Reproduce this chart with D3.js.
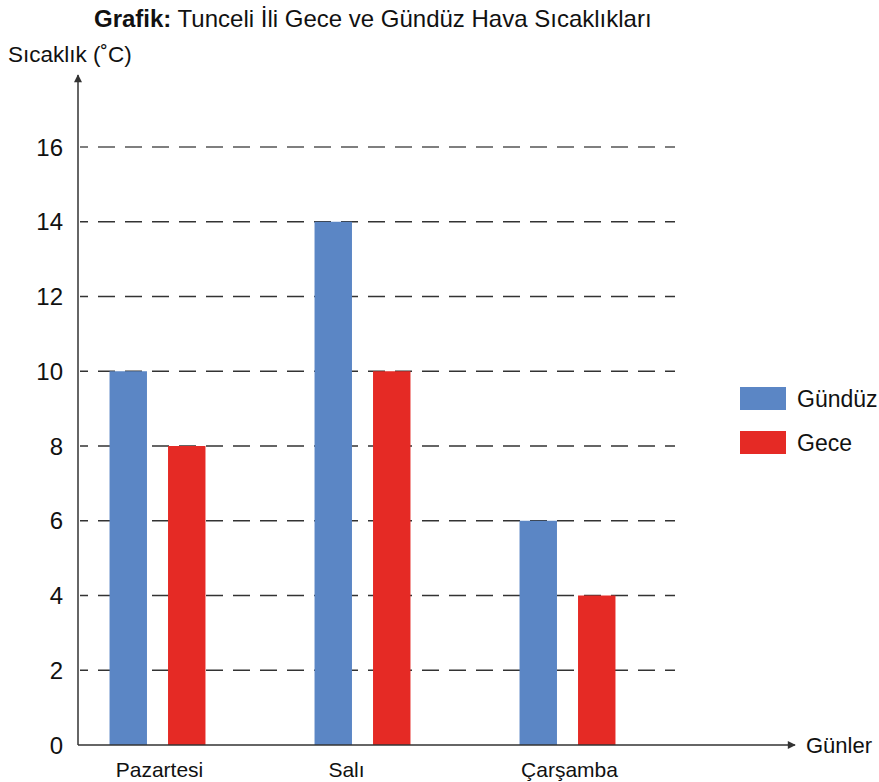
<!DOCTYPE html>
<html>
<head>
<meta charset="utf-8">
<script src="https://cdnjs.cloudflare.com/ajax/libs/d3/7.8.5/d3.min.js"></script>
<style>
  body { margin: 0; background: #fff; }
  svg { font-family: "Liberation Sans", Arial, sans-serif; }
</style>
</head>
<body>
<svg id="svg" width="879" height="782"></svg>
<script>
// chart data
var days = ["Pazartesi", "Salı", "Çarşamba"];
var series = ["Gündüz", "Gece"];
var gunduz = [10, 14, 6];
var gece = [8, 10, 4];
var yTicks = [0, 2, 4, 6, 8, 10, 12, 14, 16];
var colors = ["#5b86c5", "#e52a25"];

function bar_chart() {
    var svg = d3.select("svg");

    var x0 = d3.scaleBand()
            .domain(days)
            .range([55, 670])
            .paddingInner(0.532)
            .paddingOuter(0.266);

    var x1 = d3.scaleBand()
            .domain(series)
            .range([0, x0.bandwidth()])
            .paddingInner(0.36);

    var y = d3.scaleLinear()
            .domain([0, 16])
            .range([745, 147]);

    var color = d3.scaleOrdinal().domain(series).range(colors);

    var rows = days.map(function (d, i) {
        return {day: d, values: [
            {key: "Gündüz", value: gunduz[i]},
            {key: "Gece", value: gece[i]}
        ]};
    });

    // arrow head
    svg.append("defs").append("marker")
            .attr("id", "arrow")
            .attr("viewBox", "0 0 10 10")
            .attr("refX", 9)
            .attr("refY", 5)
            .attr("markerWidth", 10)
            .attr("markerHeight", 8)
            .attr("markerUnits", "userSpaceOnUse")
            .attr("orient", "auto")
            .append("path")
            .attr("d", "M0,0L10,5L0,10z")
            .attr("fill", "#333");

    // dashed grid lines
    svg.append("g")
            .selectAll("line")
            .data(yTicks.filter(function (d) { return d > 0; }))
            .enter().append("line")
            .attr("x1", 80)
            .attr("x2", 675)
            .attr("y1", function (d) { return y(d); })
            .attr("y2", function (d) { return y(d); })
            .attr("stroke", function (d) { return d === 16 ? "#555" : "#333"; })
            .attr("stroke-width", 1.6)
            .attr("stroke-dasharray", "17,10")
            .attr("stroke-dashoffset", 9);

    // bars
    var group = svg.append("g")
            .selectAll("g")
            .data(rows)
            .enter().append("g")
            .attr("transform", function (d) {
                return "translate(" + x0(d.day) + ",0)";
            });

    group.selectAll("rect")
            .data(function (d) { return d.values; })
            .enter().append("rect")
            .attr("x", function (d) { return x1(d.key); })
            .attr("y", function (d) { return y(d.value); })
            .attr("width", x1.bandwidth())
            .attr("height", function (d) { return y(0) - y(d.value); })
            .attr("fill", function (d) { return color(d.key); });

    // y tick labels
    svg.append("g")
            .selectAll("text")
            .data(yTicks)
            .enter().append("text")
            .attr("x", 63)
            .attr("y", function (d) { return y(d); })
            .attr("dy", "0.36em")
            .attr("text-anchor", "end")
            .attr("font-size", 24)
            .attr("fill", "#111")
            .text(function (d) { return d; });

    // x labels
    svg.append("g")
            .selectAll("text")
            .data(days)
            .enter().append("text")
            .attr("x", function (d) { return x0(d) + x0.bandwidth() / 2 + (d === "Salı" ? -16 : 2); })
            .attr("y", 777)
            .attr("text-anchor", "middle")
            .attr("font-size", 21)
            .attr("fill", "#111")
            .text(function (d) { return d; });

    // axes
    svg.append("line")
            .attr("x1", 78).attr("y1", y(0))
            .attr("x2", 78).attr("y2", 75)
            .attr("stroke", "#333")
            .attr("stroke-width", 1.5)
            .attr("marker-end", "url(#arrow)");

    svg.append("line")
            .attr("x1", 78).attr("y1", y(0))
            .attr("x2", 795).attr("y2", y(0))
            .attr("stroke", "#333")
            .attr("stroke-width", 1.5)
            .attr("marker-end", "url(#arrow)");

    svg.append("text")
            .attr("x", 806)
            .attr("y", y(0) + 8)
            .attr("font-size", 22)
            .attr("fill", "#111")
            .text("Günler");

    svg.append("text")
            .attr("x", 8)
            .attr("y", 62)
            .attr("font-size", 22.5)
            .attr("fill", "#111")
            .text("Sıcaklık (˚C)");

    // title
    var title = svg.append("text")
            .attr("x", 94)
            .attr("y", 27)
            .attr("font-size", 24)
            .attr("fill", "#111");
    title.append("tspan").attr("font-weight", "bold").text("Grafik:");
    title.append("tspan").text(" Tunceli İli Gece ve Gündüz Hava Sıcaklıkları");

    // legend
    var legend = svg.append("g")
            .selectAll("g")
            .data(series)
            .enter().append("g")
            .attr("transform", function (d, i) {
                return "translate(740," + (387 + i * 44) + ")";
            });

    legend.append("rect")
            .attr("width", 46)
            .attr("height", 23)
            .attr("fill", function (d) { return color(d); });

    legend.append("text")
            .attr("x", 57)
            .attr("y", 12)
            .attr("dy", "0.36em")
            .attr("font-size", 23)
            .attr("fill", "#111")
            .text(function (d) { return d; });
}

bar_chart();
</script>
</body>
</html>
